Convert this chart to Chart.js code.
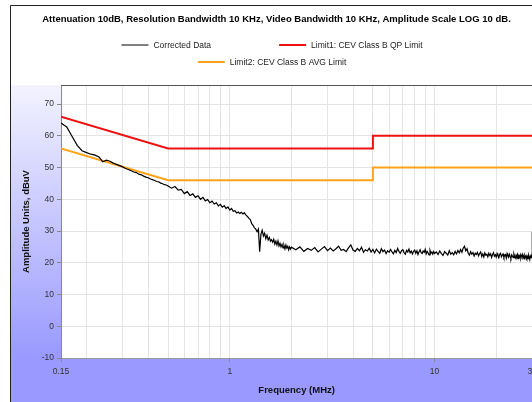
<!DOCTYPE html>
<html>
<head>
<meta charset="utf-8">
<script src="https://cdn.jsdelivr.net/npm/chart.js@4.4.0/dist/chart.umd.min.js"></script>
<style>
html, body { margin: 0; padding: 0; overflow: hidden; background: #fff; }
#wrap { width: 542px; height: 402px; }
</style>
</head>
<body>
<div id="wrap"><canvas id="emc" width="542" height="402"></canvas></div>
<script>
// measured trace (MHz / dBuV)
var freq = [
    0.15, 0.16, 0.17, 0.18, 0.19, 0.20, 0.21, 0.22, 0.23, 0.24, 0.25, 0.26,
    0.27, 0.28, 0.29, 0.30, 0.31, 0.32, 0.33, 0.34, 0.35, 0.36, 0.37, 0.38,
    0.39, 0.40, 0.41, 0.42, 0.43, 0.44, 0.45, 0.46, 0.47, 0.48, 0.49, 0.50,
    0.52, 0.54, 0.56, 0.58, 0.60, 0.62, 0.64, 0.66, 0.68, 0.70, 0.72, 0.74,
    0.76, 0.78, 0.80, 0.82, 0.84, 0.86, 0.88, 0.90, 0.92, 0.94, 0.96, 0.98,
    1.00, 1.02, 1.04, 1.06, 1.08, 1.10, 1.12, 1.14, 1.16, 1.18, 1.20,
    1.22, 1.24, 1.26, 1.28, 1.30, 1.32, 1.34, 1.36, 1.38, 1.40,
    1.42, 1.44, 1.46, 1.48, 1.50, 1.52, 1.54, 1.56, 1.58, 1.60,
    1.62, 1.64, 1.66, 1.68, 1.70, 1.72, 1.74, 1.76, 1.78, 1.80,
    1.82, 1.84, 1.86, 1.88, 1.90, 1.92, 1.94, 1.96, 1.98, 2.00,
    2.1, 2.2, 2.3, 2.4, 2.5, 2.6, 2.7, 2.8, 2.9, 3.0,
    3.1, 3.2, 3.3, 3.4, 3.5, 3.6, 3.7, 3.8, 3.9, 4.0,
    4.1, 4.2, 4.3, 4.4, 4.5, 4.6, 4.7, 4.8, 4.9, 5.0,
    5.1, 5.2, 5.3, 5.4, 5.5, 5.6, 5.7, 5.8, 5.9, 6.0,
    6.1, 6.2, 6.3, 6.4, 6.5, 6.6, 6.7, 6.8, 6.9, 7.0,
    7.1, 7.2, 7.3, 7.4, 7.5, 7.6, 7.7, 7.8, 7.9, 8.0,
    8.1, 8.2, 8.3, 8.4, 8.5, 8.6, 8.7, 8.8, 8.9, 9.0,
    9.1, 9.2, 9.3, 9.4, 9.5, 9.6, 9.7, 9.8, 9.9, 10.0,
    10.2, 10.4, 10.6, 10.8, 11.0, 11.2, 11.4, 11.6, 11.8, 12.0,
    12.2, 12.4, 12.6, 12.8, 13.0, 13.2, 13.4, 13.6, 13.8, 14.0,
    14.2, 14.4, 14.6, 14.8, 15.0, 15.2, 15.4, 15.6, 15.8, 16.0,
    16.2, 16.4, 16.6, 16.8, 17.0, 17.2, 17.4, 17.6, 17.8, 18.0,
    18.2, 18.4, 18.6, 18.8, 19.0, 19.2, 19.4, 19.6, 19.8, 20.0,
    20.2, 20.4, 20.6, 20.8, 21.0, 21.2, 21.4, 21.6, 21.8, 22.0,
    22.2, 22.4, 22.6, 22.8, 23.0, 23.2, 23.4, 23.6, 23.8, 24.0,
    24.2, 24.4, 24.6, 24.8, 25.0, 25.2, 25.4, 25.6, 25.8, 26.0,
    26.2, 26.4, 26.6, 26.8, 27.0, 27.2, 27.4, 27.6, 27.8, 28.0,
    28.2, 28.4, 28.6, 28.8, 29.0, 29.2, 29.4, 29.6, 29.8, 29.95, 30
];
var level = [
    64.0, 62.8, 59.8, 57.0, 55.3, 54.7, 54.2, 53.9, 53.3, 51.8, 52.3, 52.0,
    51.4, 51.0, 50.6, 50.2, 49.7, 49.4, 49.0, 48.6, 48.4, 47.9, 47.7, 47.3,
    47.0, 46.8, 46.4, 46.2, 45.9, 45.6, 45.5, 45.1, 44.9, 44.6, 44.5, 44.2,
    43.5, 44.0, 42.9, 43.1, 41.8, 42.4, 41.2, 41.7, 40.6, 41.1, 40.0, 40.6,
    39.5, 39.9, 38.9, 39.4, 38.5, 38.9, 37.9, 38.4, 37.5, 38.0, 37.1, 37.6,
    36.6, 37.1, 36.2, 36.4, 35.7, 36.0, 35.5, 35.9, 35.4, 35.7, 35.0,
    34.6, 34.0, 33.6, 32.3, 31.8, 31.0, 30.6, 29.8, 30.6, 23.5,
    29.0, 30.2, 28.4, 29.3, 27.6, 28.7, 27.2, 28.0, 26.8, 27.3,
    26.5, 27.4, 25.9, 26.8, 25.6, 26.9, 25.3, 26.1, 25.0, 25.8,
    24.7, 25.5, 24.4, 25.6, 24.6, 25.2, 24.1, 25.0, 24.3, 24.9,
    24.1, 25.0, 23.6, 24.5, 23.9, 24.8, 23.4, 24.3, 25.1, 23.8,
    24.6, 23.7, 24.4, 25.2, 23.9, 24.2, 23.5, 24.7, 25.6, 24.0,
    23.6, 24.5, 23.8, 24.9, 23.3, 24.1, 23.7, 24.6, 23.4, 24.2,
    23.1, 24.3, 23.6, 23.0, 24.4, 23.5, 24.0, 22.9, 23.8, 23.3,
    24.2, 23.4, 22.8, 23.9, 23.2, 24.5, 23.6, 23.0, 23.8, 24.1,
    23.2, 22.7, 23.9, 23.4, 24.3, 23.1, 23.7, 22.8, 23.6, 24.0,
    23.0, 23.8, 22.6, 23.5, 24.1, 23.2, 22.9, 23.7, 23.3, 24.2,
    22.8, 23.6, 23.1, 22.5, 23.9, 23.0, 23.4, 22.7, 23.5, 22.9,
    23.4, 22.6, 23.7, 22.9, 22.3, 23.5, 23.0, 22.4, 23.8, 22.7,
    23.2, 22.5, 23.6, 22.8, 23.9, 23.1, 24.2, 23.3, 24.6, 25.2,
    23.8, 24.4, 23.0, 22.4, 23.5, 22.7, 23.2, 22.1, 23.0, 22.6,
    23.3, 22.2, 22.9, 23.4, 22.0, 22.8, 21.8, 23.1, 22.4, 22.7,
    21.9, 23.0, 22.3, 22.8, 21.7, 22.6, 23.2, 22.1, 22.5, 21.8,
    22.9, 22.2, 21.6, 22.7, 23.0, 21.9, 22.4, 22.8, 21.7, 22.3,
    22.6, 21.5, 22.9, 22.2, 21.8, 22.7, 22.0, 21.4, 22.5, 22.1,
    21.6, 22.8, 22.0, 21.5, 22.4, 21.9, 22.6, 21.3, 22.2, 21.8,
    22.5, 21.4, 22.1, 22.7, 21.6, 22.0, 21.2, 22.3, 21.7, 22.2,
    21.5, 22.0, 21.3, 22.4, 21.8, 21.4, 22.1, 21.6, 21.9, 21.5, 29.8
];

// limit lines
var qpFreq = [0.15, 0.5, 5, 5, 30];
var qpLevel = [66, 56, 56, 60, 60];
var avgFreq = [0.15, 0.5, 5, 5, 30];
var avgLevel = [56, 46, 46, 50, 50];

// axes
var xTicks = [0.15, 0.2, 0.3, 0.4, 0.5, 0.6, 0.7, 0.8, 0.9, 1, 2, 3, 4, 5, 6, 7, 8, 9, 10, 20, 30];
var xLabels = [0.15, 1, 10, 30];
var yTicks = [-10, 0, 10, 20, 30, 40, 50, 60, 70];

function toPoints(xs, ys) {
    var pts = [];
    for (let i = 0; i < xs.length; i++) {
        pts.push({ x: xs[i], y: ys[i] });
    }
    return pts;
}

var FONT = 'Liberation Sans';

// background: white top, lavender gradient below, white plot, thin frame
var backdrop = {
    id: 'backdrop',
    beforeDraw: function (chart) {
        var ctx = chart.ctx, a = chart.chartArea;
        ctx.save();
        ctx.fillStyle = '#fff';
        ctx.fillRect(0, 0, chart.width, chart.height);
        var g = ctx.createLinearGradient(0, a.top, 0, a.bottom);
        g.addColorStop(0, '#f3f3ff');
        g.addColorStop(1, '#9999ff');
        ctx.fillStyle = g;
        ctx.fillRect(11, a.top, chart.width - 11, chart.height - a.top);
        ctx.fillStyle = '#fff';
        ctx.fillRect(a.left, a.top, a.right - a.left, a.bottom - a.top);
        ctx.strokeStyle = '#222';
        ctx.lineWidth = 1;
        ctx.beginPath();
        ctx.moveTo(10.5, chart.height);
        ctx.lineTo(10.5, 5.5);
        ctx.lineTo(chart.width, 5.5);
        ctx.stroke();
        ctx.restore();
    },
    afterDraw: function (chart) {
        var ctx = chart.ctx, a = chart.chartArea;
        ctx.save();
        ctx.strokeStyle = '#555';
        ctx.lineWidth = 1;
        ctx.beginPath();
        ctx.moveTo(a.left, a.top + 0.5);
        ctx.lineTo(a.right, a.top + 0.5);
        ctx.stroke();
        ctx.restore();
    }
};

// legend in two rows like the original
var legendRows = [[0, 1], [2]];
var rowLegend = {
    id: 'rowLegend',
    afterDraw: function (chart) {
        var ctx = chart.ctx;
        var sets = chart.data.datasets;
        ctx.save();
        ctx.font = '8.5px "' + FONT + '"';
        ctx.textBaseline = 'middle';
        for (let r = 0; r < legendRows.length; r++) {
            var row = legendRows[r];
            var widths = row.map(function (i) { return 27 + 5 + ctx.measureText(sets[i].label).width; });
            var total = widths.reduce(function (s, w) { return s + w; }, 0) + 68 * (row.length - 1);
            var x = 272 - total / 2;
            var y = 45 + r * 17;
            for (let k = 0; k < row.length; k++) {
                var ds = sets[row[k]];
                ctx.strokeStyle = ds.borderColor;
                ctx.lineWidth = Math.round(ds.borderWidth);
                ctx.beginPath();
                ctx.moveTo(x, y);
                ctx.lineTo(x + 27, y);
                ctx.stroke();
                ctx.fillStyle = '#222';
                ctx.fillText(ds.label, x + 32, y + 0.5);
                x += widths[k] + 68;
            }
        }
        ctx.restore();
    }
};

var ctx = document.getElementById('emc').getContext('2d');
var chart = new Chart(ctx, {
    type: 'line',
    data: {
        datasets: [{
            label: 'Corrected Data',
            data: toPoints(freq, level),
            borderColor: '#000',
            borderWidth: 1.2,
            pointRadius: 0,
            tension: 0
        }, {
            label: 'Limit1: CEV Class B QP Limit',
            data: toPoints(qpFreq, qpLevel),
            borderColor: '#ee1111',
            borderWidth: 2,
            pointRadius: 0,
            tension: 0
        }, {
            label: 'Limit2: CEV Class B AVG Limit',
            data: toPoints(avgFreq, avgLevel),
            borderColor: '#ffa31a',
            borderWidth: 2,
            pointRadius: 0,
            tension: 0
        }]
    },
    options: {
        responsive: false,
        animation: false,
        layout: { padding: { left: 11 } },
        scales: {
            x: {
                type: 'logarithmic',
                min: 0.15,
                max: 30,
                afterBuildTicks: function (s) { s.ticks = xTicks.map(function (v) { return { value: v }; }); },
                afterFit: function (s) { s.height = 44; },
                ticks: {
                    autoSkip: false,
                    maxRotation: 0,
                    padding: 5,
                    color: '#333',
                    font: { family: FONT, size: 8.5 },
                    callback: function (v) { return xLabels.indexOf(v) >= 0 ? String(v) : ''; }
                },
                grid: {
                    color: '#e4e4e4',
                    tickLength: 4,
                    tickColor: function (c) { return c.tick && xLabels.indexOf(c.tick.value) >= 0 ? '#888' : 'rgba(0,0,0,0)'; }
                },
                border: { color: '#999' },
                title: {
                    display: true,
                    text: 'Frequency (MHz)',
                    color: '#111',
                    font: { family: FONT, size: 9.5, weight: 'bold' },
                    padding: { bottom: 6 }
                }
            },
            y: {
                min: -10,
                max: 76,
                afterBuildTicks: function (s) { s.ticks = yTicks.map(function (v) { return { value: v }; }); },
                afterFit: function (s) { s.width = 50; },
                ticks: {
                    padding: 3,
                    color: '#333',
                    font: { family: FONT, size: 8.5 }
                },
                grid: { color: '#e4e4e4', tickLength: 4, tickColor: '#888' },
                border: { color: '#888' },
                title: {
                    display: true,
                    text: 'Amplitude Units, dBuV',
                    color: '#111',
                    font: { family: FONT, size: 9.5, weight: 'bold' },
                    padding: { top: 10 }
                }
            }
        },
        plugins: {
            legend: { display: false },
            tooltip: { enabled: false },
            title: {
                display: true,
                text: 'Attenuation 10dB, Resolution Bandwidth 10 KHz, Video Bandwidth 10 KHz, Amplitude Scale LOG 10 dB.',
                color: '#000',
                font: { family: FONT, size: 9.5, weight: 'bold' },
                padding: { top: 14, bottom: 59.6 }
            }
        }
    },
    plugins: [backdrop, rowLegend]
});
</script>
</body>
</html>
